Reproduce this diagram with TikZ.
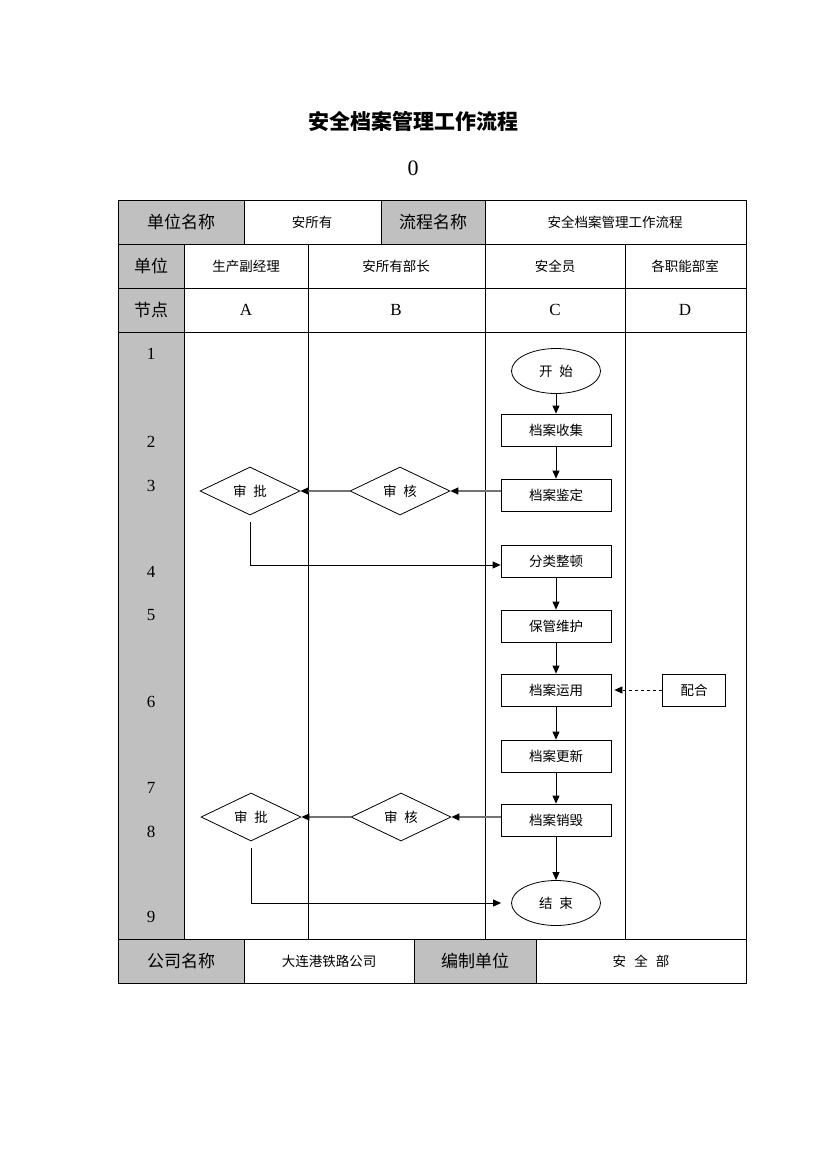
\documentclass[tikz,border=0pt]{standalone}
\usepackage{fontspec}
\setmainfont{Liberation Serif}
\newfontfamily\cjk{Noto Sans CJK SC}
\usepackage{tikz}
\usetikzlibrary{shapes.geometric, arrows.meta, positioning}
\definecolor{cellgray}{RGB}{192,192,192}
\definecolor{linkgray}{RGB}{115,115,115}

\begin{document}
\begin{tikzpicture}[x=1pt,y=-1pt,
  big/.style={font=\cjk\fontsize{17}{19}\selectfont},
  small/.style={font=\cjk\fontsize{13.5}{15}\selectfont},
  latin/.style={font=\fontsize{17}{19}\selectfont},
  box/.style={draw,line width=0.8pt,minimum width=110pt,minimum height=32pt,inner sep=0pt,font=\cjk\fontsize{13.5}{15}\selectfont},
  oval/.style={ellipse,draw,line width=0.8pt,minimum width=89pt,minimum height=45pt,inner sep=0pt,font=\cjk\fontsize{13.5}{15}\selectfont},
  check/.style={diamond,draw,line width=0.8pt,minimum width=100pt,minimum height=48pt,inner sep=0pt,font=\cjk\fontsize{13.5}{15}\selectfont},
  flow/.style={-{Triangle[length=8pt,width=7pt]},line width=0.8pt},
  back/.style={-{Triangle[length=8pt,width=7pt,color=black]},draw=linkgray,line width=1.4pt}]
\useasboundingbox (0,0) rectangle (826,1169);

% Title
\node[font=\cjk\bfseries\fontsize{21}{24}\selectfont] (title) at (413,122) {安全档案管理工作流程};
\node[font=\fontsize{22}{24}\selectfont] (zero) at (413,168) {0};

% Gray cells
\fill[cellgray] (118,200) rectangle (244,244);
\fill[cellgray] (381,200) rectangle (485,244);
\fill[cellgray] (118,244) rectangle (184,939);
\fill[cellgray] (118,939) rectangle (244,983);
\fill[cellgray] (414,939) rectangle (536,983);

% Table lines
\begin{scope}[line width=0.8pt]
\draw (118,200) rectangle (746,983);
\foreach \y in {244,288,332,939} \draw (118,\y) -- (746,\y);
\foreach \x in {244,381,485} \draw (\x,200) -- (\x,244);
\foreach \x in {184,308,485,625} \draw (\x,244) -- (\x,939);
\foreach \x in {244,414,536} \draw (\x,939) -- (\x,983);
\end{scope}

% Header rows
\node[big] (unitname) at (181,222) {单位名称};
\node[small] (unit) at (312,222) {安所有};
\node[big] (procname) at (433,222) {流程名称};
\node[small] (proc) at (615,222) {安全档案管理工作流程};
\node[big] (unitlbl) at (151,266) {单位};
\node[small] (roleA) at (246,266) {生产副经理};
\node[small] (roleB) at (396,266) {安所有部长};
\node[small] (roleC) at (555,266) {安全员};
\node[small] (roleD) at (685,266) {各职能部室};
\node[big] (steplbl) at (151,310) {节点};
\foreach \c/\x in {A/246,B/396,C/555,D/685}
  \node[latin] (col\c) at (\x,310) {\c};

% Row numbers
\foreach \n/\y in {1/354,2/442,3/486,4/572,5/615,6/702,7/788,8/832,9/917}
  \node[latin] (row\n) at (151,\y) {\n};

% Footer
\node[big] (compname) at (181,961) {公司名称};
\node[small] (comp) at (329,961) {大连港铁路公司};
\node[big] (editname) at (475,961) {编制单位};
\node[small] (edit) at (641,961) {安\hspace{0.6em}全\hspace{0.6em}部};

% Flow
\node[oval] (start) at (556,371) {开\hspace{0.5em}始};
\node[box] (collect) at (556,430) {档案收集};
\node[box] (ident) at (556,495) {档案鉴定};
\node[check] (verA) at (400,491) {审\hspace{0.5em}核};
\node[check] (appA) at (250,491) {审\hspace{0.5em}批};
\node[box] (sort) at (556,561) {分类整顿};
\node[box] (keep) at (556,626) {保管维护};
\node[box] (use) at (556,690) {档案运用};
\node[box] (coop) at (694,690) [minimum width=63pt] {配合};
\node[box] (update) at (556,756) {档案更新};
\node[box] (destroy) at (556,820) {档案销毁};
\node[check] (verB) at (401,817) {审\hspace{0.5em}核};
\node[check] (appB) at (251,817) {审\hspace{0.5em}批};
\node[oval] (end) at (556,903) {结\hspace{0.5em}束};

\draw[flow] (start) -- (collect);
\draw[flow] (collect) -- (ident);
\draw[back] (verA.east -| ident.west) -- (verA);
\draw[back] (verA) -- (appA);
\draw[flow, shorten <=7pt] (appA.south) |- ([yshift=-4pt]sort.west);
\draw[flow] (sort) -- (keep);
\draw[flow] (keep) -- (use);
\draw[flow, dashed, shorten >=3pt] (coop) -- (use);
\draw[flow] (use) -- (update);
\draw[flow] (update) -- (destroy);
\draw[back] (verB.east -| destroy.west) -- (verB);
\draw[back] (verB) -- (appB);
\draw[flow] (destroy) -- (end);
\draw[flow, shorten <=7pt, shorten >=10pt] (appB.south) |- (end.west);
\end{tikzpicture}
\end{document}
